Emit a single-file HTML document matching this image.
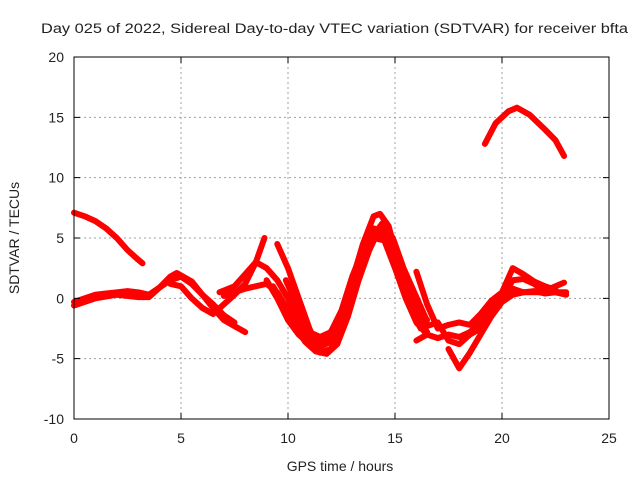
<!DOCTYPE html>
<html><head><meta charset="utf-8"><style>
html,body{margin:0;padding:0;background:#fff}
svg{display:block;font-family:"Liberation Sans",sans-serif}
</style></head><body>
<svg id="chart" width="640" height="480" viewBox="0 0 640 480">
<text x="41" y="33" font-size="13.5" fill="#222" textLength="587" lengthAdjust="spacingAndGlyphs">Day 025 of 2022, Sidereal Day-to-day VTEC variation (SDTVAR) for receiver bfta</text>
<g id="grid"></g>
<g id="series"></g>
<rect x="74" y="57" width="535" height="362" fill="none" stroke="#000" stroke-width="1"/>
<g id="ticks"></g>
<text x="340" y="471" font-size="14" fill="#222" text-anchor="middle">GPS time / hours</text>
<text transform="translate(19,238) rotate(-90)" font-size="14" fill="#222" text-anchor="middle">SDTVAR / TECUs</text>
</svg>
<script>
const xTicks=[0,5,10,15,20,25];
const yTicks=[-10,-5,0,5,10,15,20];
const trackA=[[0,7.1],[0.5,6.8],[1,6.4],[1.5,5.8],[2,5.0],[2.5,4.0],[3,3.2],[3.2,2.9]];
const trackB=[[0,-0.3],[0.5,0],[1,0.3],[1.5,0.4],[2,0.5],[2.5,0.6],[3,0.5],[3.5,0.3],[4,0.9],[4.5,1.5],[5,1.8],[5.5,1.2],[6,0.3],[6.5,-0.8],[7,-1.8],[7.5,-2.3],[8,-2.8]];
const trackB2=[[0,-0.6],[0.5,-0.3],[1,0],[2,0.3],[3,0.1],[3.5,0.1],[4,0.9],[4.5,1.8],[4.8,2.1],[5.5,1.4],[6,0.3],[6.5,-0.5],[7,-1.4],[7.5,-2.0]];
const trackC=[[4.5,1.2],[5,1.0],[5.5,0],[6,-0.8],[6.5,-1.3],[7,-0.5],[7.5,0.3],[8,1.2],[8.5,3.0],[8.9,5.0]];
const trackD=[[6.8,0.5],[7.5,1.0],[8,2.0],[8.5,3.0],[9,2.5],[9.5,1.5],[10,0],[10.5,-2],[11,-3.5],[11.5,-4.0],[12,-3.6],[12.5,-1.5],[13,1.5],[13.5,4.5],[14,6.8],[14.3,7.0],[14.7,6.0],[15,4.0],[15.5,1.0],[16,-1.0],[16.5,-2.2]];
const trackE=[[9.5,4.5],[10,2.5],[10.5,0],[11,-2.5],[11.5,-4.5],[12,-4.2],[12.5,-2.5],[13,0.5],[13.5,3.5],[14,5.5],[14.5,5.2],[15,3.0],[15.5,0.5],[16,-1.5],[16.5,-2.8]];
const trackF=[[7,0.2],[8,0.8],[9,1.2],[9.5,0.5],[10,-1],[10.5,-2.2],[11,-2.8],[11.5,-3.2],[12,-2.8],[12.5,-1.0],[13,1.8],[13.5,4.0],[14,5.8],[14.5,5.5],[15,3.5],[15.5,1.5],[16,-0.5],[16.5,-1.8]];
const trackG=[[9,1.5],[9.5,0],[10,-1.8],[10.5,-3.0],[11,-3.8],[11.5,-3.7],[12,-3.2],[12.5,-1.8],[13,1.0],[13.5,3.5],[14,5.0],[14.5,4.8],[15,2.5],[15.5,0],[16,-2.0],[16.5,-3.0]];
const trackG2=[[9.3,1.0],[9.8,-0.5],[10.3,-2.2],[10.8,-3.6],[11.3,-4.4],[11.8,-4.6],[12.3,-3.8],[12.8,-1.5],[13.3,1.5],[13.8,4.0],[14.2,5.5],[14.7,4.5],[15.2,2.0],[15.7,-0.5],[16.2,-2.5]];
const trackG3=[[9.9,1.5],[10.4,-0.5],[10.9,-2.5],[11.4,-3.5],[11.9,-3.0],[12.4,-1.8],[12.9,0.5],[13.4,3.0],[13.9,5.0],[14.4,6.2],[14.9,5.0],[15.4,2.5],[15.9,0.5],[16.4,-1.5]];
const trackH=[[16,2.2],[16.5,-0.5],[17,-2.5],[17.5,-2.2],[18,-2.0],[18.5,-2.2],[19,-1.3],[19.5,-0.2],[20,0.5],[20.5,2.5],[21,2.0],[21.5,1.4],[22,1.0],[22.5,0.7]];
const trackI=[[16,-3.5],[16.5,-3.0],[17,-3.3],[17.5,-3.0],[18,-3.2],[18.5,-2.8],[19,-2.0],[19.5,-0.8],[20,0.2],[20.5,0.8],[21,0.5],[21.5,0.6],[22,0.4],[22.5,0.5],[23,0.3]];
const trackJ=[[16.5,-2.3],[17,-2.0],[17.5,-3.5],[18,-3.8],[18.5,-3.0],[19,-2.5],[19.5,-1.0],[20,0],[20.5,1.5],[21,1.6],[21.5,1.2],[22,0.6],[22.5,1.0],[22.9,1.3]];
const trackK=[[17.5,-4.2],[18,-5.8],[18.5,-4.5],[19,-3.0],[19.5,-1.5],[20,-0.3],[20.5,0.3],[21,0.5],[22,0.5],[23,0.5]];
const trackL=[[19.2,12.8],[19.7,14.5],[20.3,15.5],[20.7,15.8],[21.3,15.2],[22,14.0],[22.5,13.1],[22.9,11.8]];
const tracks=[trackA,trackB,trackB2,trackC,trackD,trackE,trackF,trackG,trackG2,trackG3,trackH,trackI,trackJ,trackK,trackL];
const NS='http://www.w3.org/2000/svg';
const X0=74,X1=609,Y0=419,Y1=57;
const xs=t=>X0+(t-0)/(25-0)*(X1-X0);
const ys=v=>Y0-(v+10)/(30)*(Y0-Y1);
const grid=document.getElementById('grid'),ticks=document.getElementById('ticks'),ser=document.getElementById('series');
function mk(tag,attrs,parent){const e=document.createElementNS(NS,tag);for(const k in attrs)e.setAttribute(k,attrs[k]);parent.appendChild(e);return e;}
xTicks.forEach(t=>{
  const x=xs(t);
  if(t>0&&t<25){const g=mk('line',{x1:x,x2:x,y1:Y1,y2:Y0,stroke:'#a0a0a0','stroke-dasharray':'2,3'},grid);
  
  }
  const l=mk('path',{d:`M${x},${Y0}v-6M${x},${Y1}v6`,stroke:'#000'},ticks);
  
  
  const tx=mk('text',{x:x,y:Y0+24,'font-size':14,fill:'#222','text-anchor':'middle'},ticks);tx.textContent=t;
  
  
});
yTicks.forEach(v=>{
  const y=ys(v);
  if(v>-10&&v<20){const g=mk('line',{x1:X0,x2:X1,y1:y,y2:y,stroke:'#a0a0a0','stroke-dasharray':'2,3'},grid);
  
  }
  const l=mk('path',{d:`M${X0},${y}h6M${X1},${y}h-6`,stroke:'#000'},ticks);
  
  
  const tx=mk('text',{x:X0-10,y:y+5,'font-size':14,fill:'#222','text-anchor':'end'},ticks);tx.textContent=v;
  
  
});
tracks.forEach(tr=>{
  const p=mk('polyline',{points:tr.map(d=>xs(d[0])+','+ys(d[1])).join(' '),fill:'none',stroke:'#ff0000','stroke-width':6,'stroke-linejoin':'round','stroke-linecap':'round'},ser);
  
  
});
</script>
</body></html>
